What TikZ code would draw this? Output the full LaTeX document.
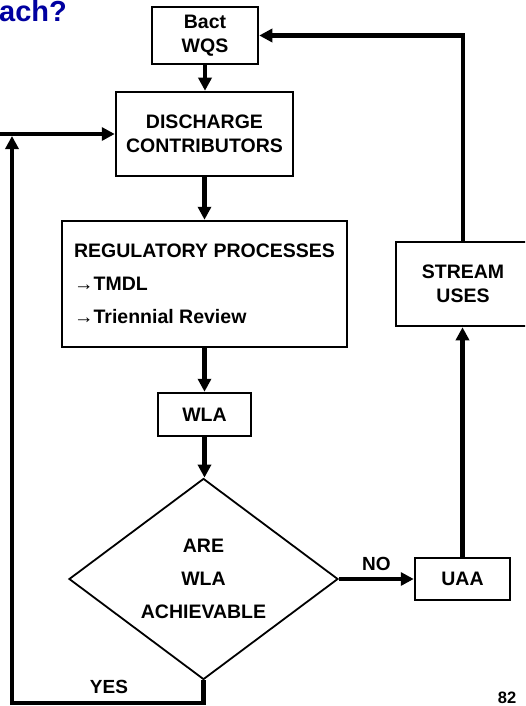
\documentclass[tikz,border=0pt]{standalone}
\usepackage{fontspec}
\setmainfont{Liberation Sans}
\usetikzlibrary{shapes.geometric,arrows.meta}
\definecolor{titleblue}{RGB}{0,0,160}

\begin{document}
\begin{tikzpicture}[
  x=1pt,y=-1pt,
  box/.style={draw, line width=2.5pt, inner sep=0pt, align=center,
    font=\bfseries\fontsize{19.5}{23.5}\selectfont},
  decision/.style={diamond, draw, line width=1.8pt, inner sep=0pt, align=center,
    font=\bfseries\fontsize{19.5}{33}\selectfont},
  flow/.style={-{Triangle[length=13pt,width=13pt]}, line width=4.5pt},
  tag/.style={inner sep=0pt, font=\bfseries\fontsize{19}{22}\selectfont}]

\useasboundingbox (0,0) rectangle (525,706);
\clip (0,0) rectangle (525,706);

% Title fragment cut by the page edge
\node[anchor=base west, inner sep=0pt, text=titleblue,
  font=\bfseries\fontsize{29}{30}\selectfont] (titleText) at (-1,22) {ach?};

% Place the boxes at fixed coordinates
\node[box, minimum width=106pt, minimum height=57pt] (bactWQS) at (205,35.5) {Bact\\WQS};
\node[box, minimum width=177pt, minimum height=84pt] (dischargeContributors) at (204.5,134) {DISCHARGE\\CONTRIBUTORS};
\node[box, minimum width=285pt, minimum height=126pt, align=left,
  font=\bfseries\fontsize{19.5}{33}\selectfont] (regulatoryProcesses) at (204.5,284)
  {REGULATORY PROCESSES\\\textmd{→}TMDL\\\textmd{→}Triennial Review};
\node[box, minimum width=93pt, minimum height=43pt] (wla) at (204.5,414.5) {WLA};
\node[decision, minimum width=269pt, minimum height=201pt, aspect=1.34] (areWLAAchievable) at (203.5,579) {ARE\\WLA\\ACHIEVABLE};
\node[box, minimum width=95pt, minimum height=42pt] (uaa) at (462.5,579) {UAA};
\node[box, minimum width=134pt, minimum height=84pt] (streamUses) at (463,284) {STREAM\\USES};

% Free ends of the loop back
\coordinate (leftEdge) at (-5,134);
\coordinate (yesTurn) at (12,703);
\coordinate (loopTop) at (12,136);

% Draw the arrows between the nodes and label them.
\draw [flow] (bactWQS.south) -- (bactWQS.south |- dischargeContributors.north);
\draw [flow] (dischargeContributors.south) -- (dischargeContributors.south |- regulatoryProcesses.north);
\draw [flow] (regulatoryProcesses.south) -- (regulatoryProcesses.south |- wla.north);
\draw [flow] (wla.south) -- (wla.south |- areWLAAchievable.north);
\draw [flow] (areWLAAchievable.east) -- node[tag, above=6pt] (noLabel) {NO} (areWLAAchievable.east -| uaa.west);
\draw [flow] (uaa.north) -- (uaa.north |- streamUses.south);
\draw [flow] (streamUses.north) |- (bactWQS.east);
\draw [flow] (areWLAAchievable.south) |- (yesTurn) -- (loopTop);
\draw [flow] (leftEdge) -- (dischargeContributors.west);

\node[tag, anchor=base] (yesLabel) at (109,693) {YES};
\node[anchor=base, inner sep=0pt, font=\bfseries\fontsize{16.5}{18}\selectfont] (pageNumber) at (507,703) {82};

\end{tikzpicture}
\end{document}
